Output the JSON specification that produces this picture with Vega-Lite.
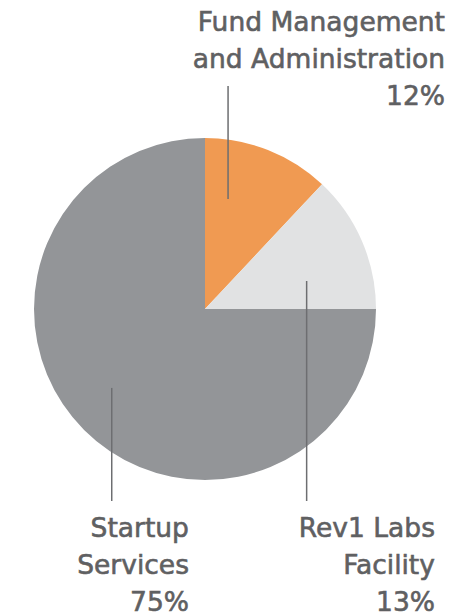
{
  "$schema": "https://vega.github.io/schema/vega-lite/v6.json",
  "width": 410,
  "height": 614,
  "autosize": {"type": "none"},
  "padding": {"left": 0, "top": 2, "right": 44, "bottom": 0},
  "background": "white",
  "config": {"view": {"stroke": null}},
  "layer": [
    {
      "data": {"values": [
        {"category": "Fund Management and Administration", "share": 12, "order": 1},
        {"category": "Rev1 Labs Facility", "share": 13, "order": 2},
        {"category": "Startup Services", "share": 75, "order": 3}
      ]},
      "mark": {"type": "arc", "outerRadius": 171},
      "encoding": {
        "theta": {"field": "share", "type": "quantitative", "stack": true},
        "order": {"field": "order", "type": "quantitative"},
        "color": {
          "field": "category", "type": "nominal", "legend": null,
          "scale": {
            "domain": ["Fund Management and Administration", "Rev1 Labs Facility", "Startup Services"],
            "range": ["#F09A52", "#E1E2E3", "#939598"]
          }
        }
      }
    },
    {
      "data": {"values": [
        {"x": 0.135, "y1": 1.305, "y2": 0.644},
        {"x": 0.595, "y1": 0.164, "y2": -1.124},
        {"x": -0.546, "y1": -0.462, "y2": -1.124}
      ]},
      "mark": {"type": "rule", "color": "#6D6E71", "strokeWidth": 1.5},
      "encoding": {
        "x": {"field": "x", "type": "quantitative", "scale": {"domain": [-1.2, 1.2], "nice": false, "zero": false}, "axis": null},
        "y": {"field": "y1", "type": "quantitative", "scale": {"domain": [-1.797, 1.797], "nice": false, "zero": false}, "axis": null},
        "y2": {"field": "y2"}
      }
    },
    {
      "data": {"values": [
        {"x": 1.405, "y": 1.627, "label": "Fund Management\nand Administration\n12%"},
        {"x": -0.094, "y": -1.332, "label": "Startup\nServices\n75%"},
        {"x": 1.346, "y": -1.332, "label": "Rev1 Labs\nFacility\n13%"}
      ]},
      "mark": {"type": "text", "align": "right", "baseline": "alphabetic", "lineBreak": "\n", "lineHeight": 37, "font": "DejaVu Sans", "fontSize": 26.5, "color": "#5F6062", "stroke": "#5F6062", "strokeWidth": 0.6},
      "encoding": {
        "x": {"field": "x", "type": "quantitative", "scale": {"domain": [-1.2, 1.2], "nice": false, "zero": false}, "axis": null},
        "y": {"field": "y", "type": "quantitative", "scale": {"domain": [-1.797, 1.797], "nice": false, "zero": false}, "axis": null},
        "text": {"field": "label"}
      }
    }
  ]
}
